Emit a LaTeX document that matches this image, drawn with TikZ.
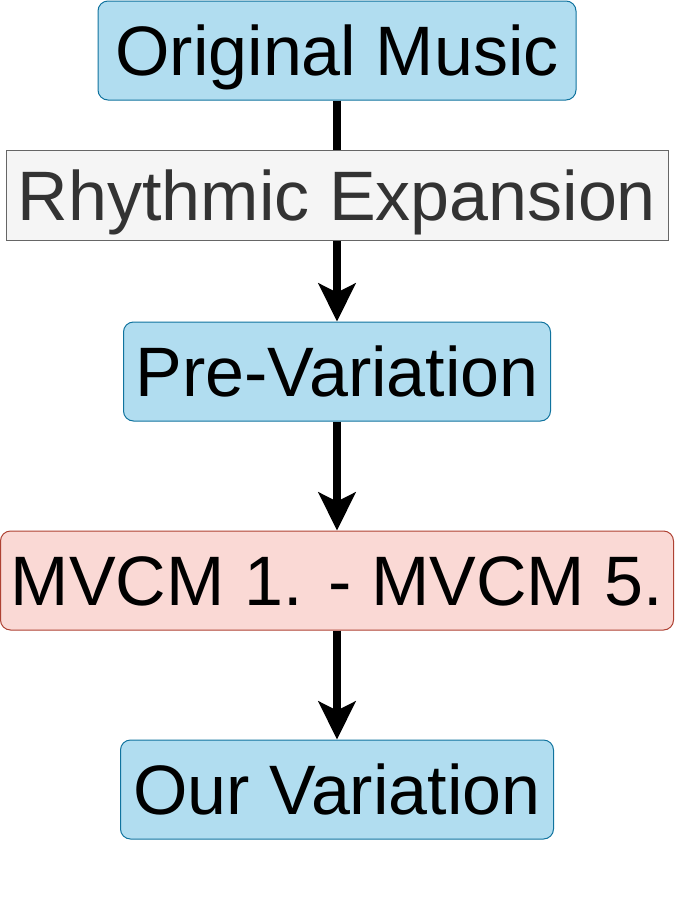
\documentclass[tikz,border=0pt]{standalone}
\usepackage{fontspec}
\setmainfont{Liberation Sans}
\usepackage{tikz}
\usetikzlibrary{positioning}
\usetikzlibrary{arrows.meta}
\definecolor{blueFill}{HTML}{B1DDF0}
\definecolor{blueLine}{HTML}{10739E}
\definecolor{redFill}{HTML}{FAD9D5}
\definecolor{redLine}{HTML}{AE4132}
\definecolor{greyFill}{HTML}{F5F5F5}
\definecolor{greyLine}{HTML}{666666}
\definecolor{greyText}{HTML}{333333}
\tikzset{%
  bigarrow/.style = {-{Stealth[length=38pt,width=37pt,inset=9pt]},line width=8pt},
  stagebox/.style = {rectangle,rounded corners=10pt,draw=blueLine,fill=blueFill,
        line width=1pt,minimum height=99pt,inner sep=0pt,
        text height=50pt,text depth=0pt},
  mvcmbox/.style = {stagebox,draw=redLine,fill=redFill},
  labelbox/.style = {rectangle,draw=greyLine,fill=greyFill,text=greyText,
        line width=1pt,minimum width=662pt,minimum height=90pt,inner sep=0pt,
        text height=50pt,text depth=0pt}
}

\begin{document}
\begin{tikzpicture}[x=1pt,y=1pt,node distance=109pt,
    font=\fontsize{70}{84}\selectfont]
                \useasboundingbox (0,0) rectangle (675,-903);
                \node[stagebox, minimum width=478pt] (orig) at (337,-50.5) {Original Music};
                \node[stagebox, minimum width=427pt] (pre) [below=221pt of orig] {Pre-Variation};
                \node[mvcmbox, minimum width=673pt] (mvcm) [below=of pre] {MVCM 1. - MVCM 5.};
                \node[stagebox, minimum width=433pt] (ours) [below=of mvcm] {Our Variation};
                \path[bigarrow] (orig) edge node[labelbox, pos=0.43] {Rhythmic Expansion} (pre)
                          (pre) edge (mvcm)
                          (mvcm) edge (ours);
            \end{tikzpicture}
\end{document}
